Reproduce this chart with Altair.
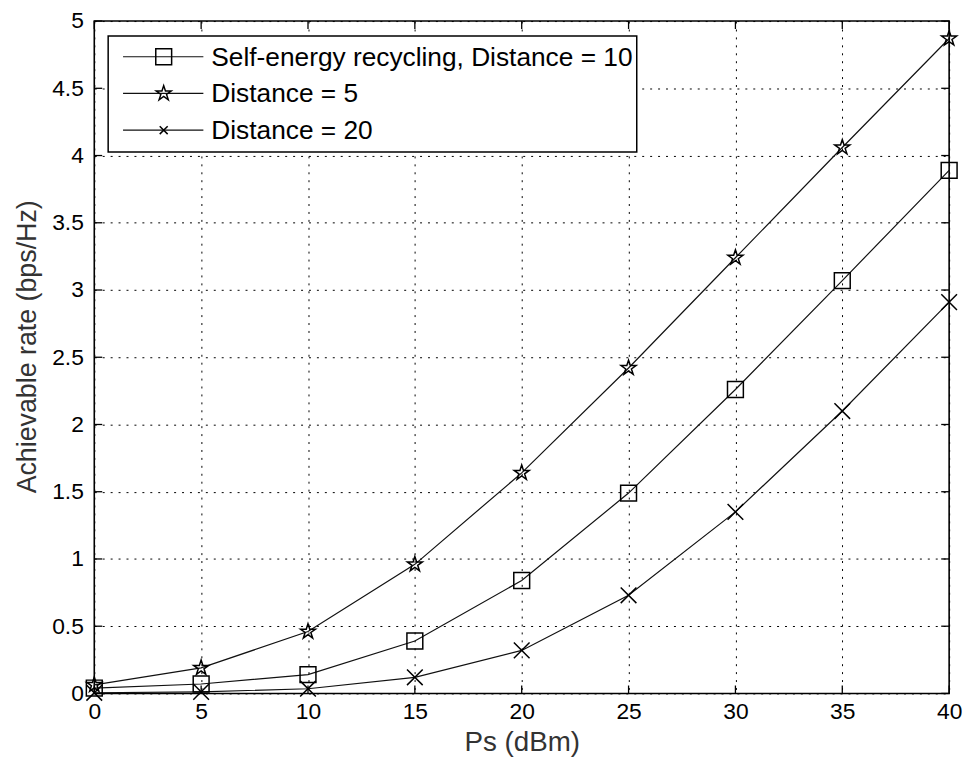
import altair as alt
import pandas as pd

# ---- data ----
ps_dbm = [0, 5, 10, 15, 20, 25, 30, 35, 40]
rate_self_d10 = [0.04, 0.07, 0.14, 0.39, 0.84, 1.49, 2.26, 3.07, 3.89]
rate_d5 = [0.064, 0.19, 0.46, 0.96, 1.64, 2.42, 3.24, 4.06, 4.87]
rate_d20 = [0.005, 0.012, 0.035, 0.12, 0.32, 0.73, 1.35, 2.10, 2.91]
series_names = ["Self-energy recycling, Distance = 10", "Distance = 5", "Distance = 20"]
x_tick_values = [0, 5, 10, 15, 20, 25, 30, 35, 40]
y_tick_values = [0, 0.5, 1, 1.5, 2, 2.5, 3, 3.5, 4, 4.5, 5]

# ---- styles ----
W, H = 862, 678
FONT = "Liberation Sans"
STAR = ("M0,-1L0.2245,-0.309L0.9511,-0.309L0.3633,0.118L0.5878,0.809L0,0.382"
        "L-0.5878,0.809L-0.3633,0.118L-0.9511,-0.309L-0.2245,-0.309Z")
XMARK = "M-1,-1L1,1M-1,1L1,-1"
shapes = ["square", STAR, XMARK]
sizes = [256, 250, 64]

rows = []
for name, vals in zip(series_names, [rate_self_d10, rate_d5, rate_d20]):
    for p, v in zip(ps_dbm, vals):
        rows.append({"ps": p, "rate": v, "series": name})
df = pd.DataFrame(rows)

xscale = alt.Scale(domain=[0, 40], nice=False, zero=False)
yscale = alt.Scale(domain=[0, 5], nice=False, zero=False)

x_enc = alt.X(
    "ps:Q", scale=xscale,
    axis=alt.Axis(
        values=x_tick_values, format="d", title="Ps (dBm)",
        labelFont=FONT, labelFontSize=23, labelColor="black", labelPadding=7,
        labelFlush=False, labelOverlap=False,
        ticks=False, domain=False, grid=True, gridColor="black", gridOpacity=1,
        gridDash=[2, 6], gridWidth=1,
        titleFont=FONT, titleFontSize=28, titleFontWeight="normal", titleColor="#333333",
        titleBaseline="middle", titleX=W / 2, titleY=50,
    ),
)
y_enc = alt.Y(
    "rate:Q", scale=yscale,
    axis=alt.Axis(
        values=y_tick_values, format="~g", title="Achievable rate (bps/Hz)",
        labelFont=FONT, labelFontSize=23, labelColor="black", labelPadding=11,
        labelFlush=False, labelOverlap=False,
        ticks=False, domain=False, grid=True, gridColor="black", gridOpacity=1,
        gridDash=[2, 6], gridWidth=1,
        titleFont=FONT, titleFontSize=27, titleFontWeight="normal", titleColor="#333333",
        titleAngle=270, titleBaseline="middle", titleX=-67, titleY=328,
    ),
)

base = alt.Chart(df)
lines = base.mark_line(color="#111111", strokeWidth=1.2).encode(
    x=x_enc, y=y_enc, detail="series:N"
)
points = base.mark_point(filled=False, color="black", strokeWidth=1.5, opacity=1).encode(
    x=alt.X("ps:Q"), y=alt.Y("rate:Q"),
    shape=alt.Shape("series:N", scale=alt.Scale(domain=series_names, range=shapes), legend=None),
    size=alt.Size("series:N", scale=alt.Scale(domain=series_names, range=sizes), legend=None),
)

# inward ticks (MATLAB style) on all four sides
tx = alt.Chart(pd.DataFrame({"ps": x_tick_values}))
ty = alt.Chart(pd.DataFrame({"rate": y_tick_values}))
TL = 8
tick_b = tx.mark_rule(color="black", strokeWidth=1.3).encode(
    x=alt.X("ps:Q"), y=alt.value(H), y2=alt.value(H - TL))
tick_t = tx.mark_rule(color="black", strokeWidth=1.3).encode(
    x=alt.X("ps:Q"), y=alt.value(0), y2=alt.value(TL))
tick_l = ty.mark_rule(color="black", strokeWidth=1.3).encode(
    y=alt.Y("rate:Q"), x=alt.value(0), x2=alt.value(TL))
tick_r = ty.mark_rule(color="black", strokeWidth=1.3).encode(
    y=alt.Y("rate:Q"), x=alt.value(W), x2=alt.value(W - TL))

# legend box
one = pd.DataFrame({"k": [0]})
legend_box = alt.Chart(one).mark_rect(fill="white", stroke="black", strokeWidth=1.5).encode(
    x=alt.value(14), x2=alt.value(547), y=alt.value(15), y2=alt.value(132)
)
legend_layers = [legend_box]
for i, name in enumerate(series_names):
    yy = 36 + i * 37
    ld = alt.Chart(pd.DataFrame({"label": [name]}))
    legend_layers.append(ld.mark_rule(color="#111111", strokeWidth=1.2).encode(
        x=alt.value(29), x2=alt.value(110), y=alt.value(yy)))
    legend_layers.append(ld.mark_point(filled=False, color="black", strokeWidth=1.5,
                                       shape=shapes[i], size=sizes[i], opacity=1).encode(
        x=alt.value(70), y=alt.value(yy)))
    legend_layers.append(ld.mark_text(align="left", baseline="middle", font=FONT,
                                      fontSize=26.5, color="black").encode(
        x=alt.value(118), y=alt.value(yy + 1), text="label:N"))

chart = alt.layer(
    lines, points, tick_b, tick_t, tick_l, tick_r, *legend_layers
).properties(
    width=W, height=H,
    background="white",
    autosize=alt.AutoSizeParams(type="none"),
    padding={"left": 87, "top": 10, "right": 17, "bottom": 70},
).configure_view(
    stroke="black", strokeWidth=1.6
)

chart.save("out.html", embed_options={"renderer": "svg", "actions": False})
